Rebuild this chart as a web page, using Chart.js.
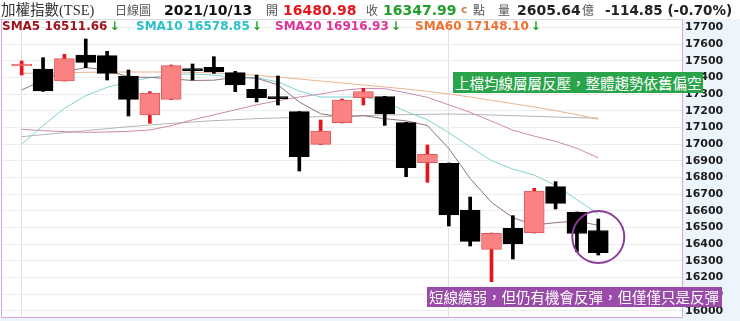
<!DOCTYPE html>
<html lang="zh-Hant">
<head>
<meta charset="utf-8">
<title>加權指數 日線圖</title>
<script src="https://cdn.jsdelivr.net/npm/chart.js@4/dist/chart.umd.min.js"></script>
<style>
  html, body { margin: 0; padding: 0; background: #ffffff; }
  #board { position: relative; width: 740px; height: 321px; overflow: hidden; }
  #kline { position: absolute; left: 0; top: 0; }
  .lbl { position: absolute; white-space: nowrap; line-height: 18px; height: 18px; }
  .num { font-family: "DejaVu Sans", Verdana, sans-serif; font-weight: bold; }
  .cjk { font-family: "Noto Sans CJK TC", "Noto Sans CJK SC", sans-serif; }
  .serif { font-family: "Liberation Serif", "Noto Sans CJK TC", serif; }
  .note { position: absolute; color: #ffffff; white-space: nowrap;
          font-family: "Noto Sans CJK TC", "Noto Sans CJK SC", sans-serif; font-size: 14.5px; }
</style>
</head>
<body>
<div id="board">
  <canvas id="kline" width="740" height="321"></canvas>
  <div id="head"></div>
</div>
<script>
// Trading days shown on the daily chart (Sep 1 – Oct 13, 2021)
const dates = ['9/1','9/2','9/3','9/6','9/7','9/8','9/9','9/10','9/13','9/14',
               '9/15','9/16','9/17','9/22','9/23','9/24','9/27','9/28','9/29','9/30',
               '10/1','10/4','10/5','10/6','10/7','10/8','10/12','10/13'];
const monthStarts = ['9/1', '10/1'];

// Daily OHLC of the index
const opens  = [17468, 17450, 17378, 17534, 17530, 17408, 17174, 17268, 17448, 17460,
                17428, 17328, 17278, 17194, 16998, 17128, 17278, 17284, 17128, 16888,
                16884, 16604, 16368, 16494, 16468, 16744, 16590, 16480.98];
const highs  = [17498, 17518, 17538, 17630, 17556, 17444, 17314, 17474, 17480, 17524,
                17436, 17414, 17408, 17194, 17144, 17270, 17334, 17286, 17130, 16994,
                16886, 16682, 16466, 16570, 16734, 16774, 16592, 16550];
const lows   = [17414, 17316, 17378, 17458, 17384, 17168, 17124, 17266, 17384, 17424,
                17314, 17252, 17234, 16838, 16996, 17126, 17234, 17112, 16804, 16770,
                16508, 16388, 16174, 16310, 16466, 16610, 16354, 16334];
const closes = [17474, 17318, 17512, 17490, 17424, 17268, 17304, 17470, 17440, 17432,
                17354, 17278, 17272, 16924, 17078, 17264, 17314, 17180, 16858, 16938,
                16574, 16416, 16464, 16400, 16718, 16644, 16462.84, 16347.99];

// Moving averages
const sma5  = [17324, 17384, 17434, 17458, 17444, 17402, 17400, 17391, 17381, 17383,
               17400, 17395, 17355, 17252, 17181, 17163, 17170, 17152, 17139, 17111,
               16973, 16793, 16650, 16558, 16514, 16528, 16538, 16511.66];
const sma10 = [17000, 17110, 17214, 17290, 17340, 17372, 17398, 17418, 17420, 17413,
               17401, 17397, 17373, 17317, 17282, 17282, 17283, 17254, 17195, 17146,
               17068, 16982, 16901, 16849, 16813, 16751, 16666, 16578.85];
const sma20 = [17088, 17080, 17074, 17070, 17072, 17076, 17084, 17110, 17145, 17175,
               17205, 17235, 17260, 17282, 17300, 17322, 17334, 17332, 17307, 17280,
               17235, 17190, 17137, 17083, 17047, 17016, 16974, 16916.93];
const sma60 = [17424, 17426, 17428, 17430, 17432, 17432, 17432, 17432, 17430, 17426,
               17420, 17412, 17402, 17390, 17378, 17366, 17354, 17342, 17330, 17316,
               17300, 17282, 17262, 17242, 17222, 17200, 17176, 17148.10];
const longMa = [17044, 17056, 17068, 17080, 17092, 17104, 17114, 17124, 17132, 17140,
                17146, 17152, 17156, 17160, 17164, 17168, 17170, 17174, 17176, 17178,
                17180, 17178, 17174, 17170, 17166, 17162, 17158, 17156];

// Price axis labels
const yTicks = [16000, 16100, 16200, 16300, 16400, 16500, 16600, 16700, 16800,
                16900, 17000, 17100, 17200, 17300, 17400, 17500, 17600, 17700];

// Quote header
const indexName = '加權指數(TSE)';
const chartKind = '日線圖';
const tradeDate = '2021/10/13';
const dayOpen = 16480.98;
const dayClose = 16347.99;
const volumeYi = 2605.64;
const change = -114.85;
const changePct = -0.70;

// Notes on the chart
const noteUpper = '上檔均線層層反壓，整體趨勢依舊偏空';
const noteLower = '短線續弱，但仍有機會反彈，但僅僅只是反彈';

// ---------- header ----------
const head = document.getElementById('head');
function put(text, x, y, cls, size, color) {
  const s = document.createElement('span');
  s.className = 'lbl ' + cls;
  s.textContent = text;
  s.style.left = x + 'px';
  s.style.top = (y - 9) + 'px';
  s.style.fontSize = size + 'px';
  s.style.color = color;
  head.appendChild(s);
  return s;
}
put(indexName, 1, 10, 'serif', 14.5, '#333333');
put(chartKind, 115, 10, 'cjk', 12, '#555555');
put(tradeDate, 164, 10, 'num', 14, '#111111');
put('開', 266, 10, 'cjk', 12, '#555555');
put(dayOpen.toFixed(2), 283, 10, 'num', 14, '#e8141c');
put('收', 366, 10, 'cjk', 12, '#555555');
put(dayClose.toFixed(2), 383, 10, 'num', 14, '#1f9e2c');
put('c', 461, 10, 'num', 11, '#c8864a');
put('點', 473, 10, 'cjk', 12, '#555555');
put('量', 498, 10, 'cjk', 12, '#555555');
put(volumeYi.toFixed(2), 517, 10, 'num', 14, '#222222');
put('億', 582, 10, 'cjk', 12, '#555555');
put(change.toFixed(2) + ' (' + changePct.toFixed(2) + '%)', 605, 10, 'num', 13.5, '#222222');

// moving-average legend row
const maNames  = ['SMA5', 'SMA10', 'SMA20', 'SMA60'];
const maSeries = [sma5, sma10, sma20, sma60];
const maText   = ['#a0141e', '#2cc0c8', '#e0309a', '#f07030'];
const maLeft   = [2, 136, 275, 415];
maNames.forEach((name, k) => {
  const arr = maSeries[k];
  const last = arr[arr.length - 1];
  const prev = arr[arr.length - 2];
  const s = put(name + ' ' + last.toFixed(2), maLeft[k], 26, 'num', 12, maText[k]);
  const a = document.createElement('span');
  a.textContent = last < prev ? '↓' : '↑';
  a.style.color = last < prev ? '#22a02a' : '#e8141c';
  a.style.marginLeft = '2px';
  s.appendChild(a);
});

// chart notes
function note(text, x, y, w, h, bg) {
  const d = document.createElement('div');
  d.className = 'note';
  d.textContent = text;
  Object.assign(d.style, { left: x + 'px', top: y + 'px', width: w + 'px', height: h + 'px',
    lineHeight: h + 'px', background: bg, paddingLeft: '2px', boxSizing: 'border-box' });
  head.appendChild(d);
}
note(noteUpper, 453, 72, 250, 21, '#2aa44a');
note(noteLower, 427, 287, 295, 20, '#9a4aa9');

// ---------- chart ----------
const isUp = dates.map((_, i) => closes[i] >= opens[i]);
const bodies = dates.map((_, i) => ({ x: i, y: [opens[i], closes[i]] }));
const wicks  = dates.map((_, i) => ({ x: i, y: [lows[i], highs[i]] }));
const pts = arr => arr.map((v, i) => ({ x: i, y: v }));

const framePlugin = {
  id: 'frame',
  beforeDraw(c) {
    const { ctx, chartArea: a, width, height } = c;
    ctx.save();
    ctx.fillStyle = '#edf5fc';
    ctx.fillRect(a.right, a.top, width - a.right, height - a.top);
    ctx.fillRect(0, a.bottom, width, height - a.bottom);
    ctx.restore();
  },
  afterDatasetsDraw(c) {
    const { ctx, scales } = c;
    const n = dates.length - 1;
    const cx = scales.x.getPixelForValue(n);
    const cy = scales.y.getPixelForValue((highs[n] + lows[n]) / 2);
    ctx.save();
    ctx.strokeStyle = '#8d3c9d';
    ctx.lineWidth = 2;
    ctx.beginPath();
    ctx.arc(cx, cy, 26, 0, Math.PI * 2);
    ctx.stroke();
    ctx.restore();
  },
  afterDraw(c) {
    const { ctx, chartArea: a } = c;
    ctx.save();
    ctx.lineWidth = 1;
    ctx.strokeStyle = '#d9d9e2';
    ctx.beginPath();
    ctx.moveTo(0, a.top + 0.5); ctx.lineTo(a.right, a.top + 0.5);
    ctx.stroke();
    ctx.strokeStyle = '#d8a9e0';
    ctx.beginPath();
    ctx.moveTo(a.left + 0.5, a.top); ctx.lineTo(a.left + 0.5, a.bottom + 0.5);
    ctx.lineTo(a.right + 0.5, a.bottom + 0.5); ctx.lineTo(a.right + 0.5, a.top);
    ctx.stroke();
    ctx.restore();
  }
};

const maLine = (arr, color) => ({
  type: 'line', data: pts(arr), borderColor: color, borderWidth: 1,
  pointRadius: 0, tension: 0, fill: false
});

new Chart(document.getElementById('kline'), {
  type: 'bar',
  data: {
    datasets: [
      { type: 'bar', data: bodies, grouped: false, barThickness: 20, minBarLength: 2,
        backgroundColor: isUp.map(u => u ? '#fb8282' : '#000000'),
        borderColor: isUp.map(u => u ? '#e25a5c' : '#000000'),
        borderWidth: 1, borderSkipped: false },
      { type: 'bar', data: wicks, grouped: false, barThickness: 3,
        backgroundColor: isUp.map(u => u ? '#e8141c' : '#000000'), borderWidth: 0 },
      maLine(sma5, 'rgba(125,90,100,0.85)'),
      maLine(sma10, '#7fd3d3'),
      maLine(sma20, '#c98aae'),
      maLine(sma60, '#e9b48f'),
      maLine(longMa, '#b4b4b4')
    ]
  },
  options: {
    responsive: false,
    animation: false,
    devicePixelRatio: 1,
    layout: { padding: { top: 19, left: 1, right: 0, bottom: 4 } },
    plugins: { legend: { display: false }, tooltip: { enabled: false } },
    scales: {
      x: {
        type: 'linear', min: -0.969, max: 30.92, offset: false,
        grid: { color: '#e0e0e0', drawTicks: false, offset: false },
        border: { display: false },
        ticks: { display: false },
        afterBuildTicks: s => { s.ticks = monthStarts.map(d => ({ value: dates.indexOf(d) })); },
        afterFit: s => { s.height = 0; s.paddingLeft = 0; s.paddingRight = 0; }
      },
      y: {
        position: 'right', min: 15962, max: 17750,
        grid: { color: '#ededed', drawTicks: false },
        border: { display: false },
        ticks: { padding: 3, color: '#1c1c1c', callback: v => String(v),
                 font: { family: 'DejaVu Sans', weight: 'bold', size: 11 } },
        afterBuildTicks: s => { s.ticks = yTicks.map(v => ({ value: v })); },
        afterFit: s => { s.width = 58; s.paddingTop = 0; s.paddingBottom = 0; }
      }
    }
  },
  plugins: [framePlugin]
});
</script>
</body>
</html>
